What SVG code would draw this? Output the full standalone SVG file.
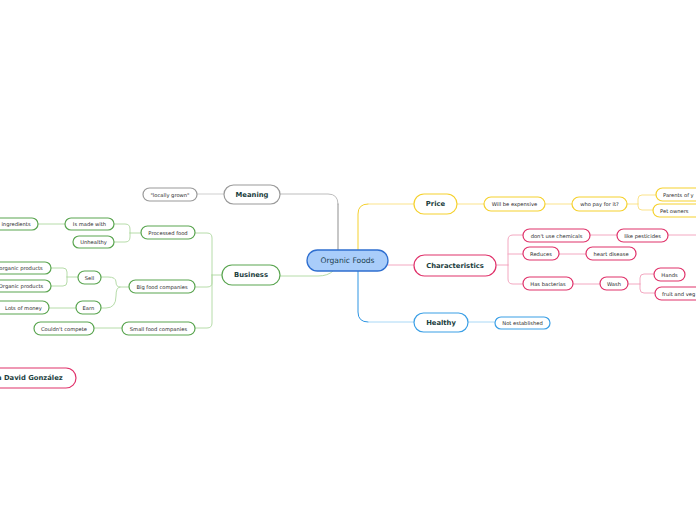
<svg xmlns="http://www.w3.org/2000/svg" width="696" height="520" viewBox="0 0 696 520">
<style>
.t{font-family:"DejaVu Sans",Verdana,sans-serif;font-size:5.2px;fill:#2a2a2a;text-anchor:middle;dominant-baseline:central}
.m{font-family:"DejaVu Sans",Verdana,sans-serif;font-size:6.8px;font-weight:bold;fill:#1b4040;text-anchor:middle;dominant-baseline:central}
.c{font-family:"DejaVu Sans",Verdana,sans-serif;font-size:7.6px;fill:#1b3f4f;text-anchor:middle;dominant-baseline:central}
.s{stroke-width:1.2}
.gy{fill:#fff;stroke:#9a9a9a;stroke-width:1.2}
.gn{fill:#fff;stroke:#5aa550;stroke-width:1.2}
.yl{fill:#fff;stroke:#f5d12e;stroke-width:1.2}
.pk{fill:#fff;stroke:#e0336b;stroke-width:1.2}
.bl{fill:#fff;stroke:#3a9fe6;stroke-width:1.2}
.l{fill:none;stroke-width:1;stroke-linecap:round}
.lgn{stroke:#b6dca9}
.lyl{stroke:#fbe38b}
.lpk{stroke:#f3a8c1}
.lbl{stroke:#a9d8f6}
.lgy{stroke:#cfcfcf}
</style>
<rect width="696" height="520" fill="#fff"/>
<g id="connectors">
  <path d="M280,194 H328 Q338,194 338,204" class="l" stroke="#bdbdbd" stroke-width="1.5"/>
  <path d="M338,204 V250" class="l" stroke="#8f8f8f" stroke-width="2.6"/>
  <path d="M280,276 H318 Q328,276 333,271" class="l lgn" stroke-width="1.3"/>
  <path d="M358,250 V214 Q358,204 368,204" class="l" stroke="#f5d12e" stroke-width="2.2"/>
  <path d="M368,204 H414" class="l" stroke="#fbe38b" stroke-width="1.3"/>
  <path d="M388,265 H414" class="l lpk" stroke-width="1.5"/>
  <path d="M358,271 V312 Q358,322 368,322" class="l" stroke="#2e95e3" stroke-width="2.2"/>
  <path d="M368,322 H414" class="l" stroke="#a9d8f6" stroke-width="1.3"/>
  <path d="M457,204 H484 M545,204 H572 M627,204 H638 M638,204 V199 Q638,195 642,195 H656 M638,204 V206 Q638,210 642,210 H653" class="l lyl"/>
  <path d="M496,265 H508 M508,265 V240 Q508,235 513,235 H523 M508,254 H523 M508,265 V279 Q508,284 513,284 H523 M590,235 H617 M668,235 H696 M559,254 H586 M573,284 H600 M628,284 H640 M640,284 V278 Q640,274 644,274 H654 M640,284 V289 Q640,293 644,293 H655" class="l lpk"/>
  <path d="M468,322 H495" class="l lbl"/>
  <path d="M224,194 H197" class="l lgy"/>
  <path d="M222,275 H212 M212,275 V238 Q212,233 207,233 H195 M212,275 V283 Q212,287 207,287 H195 M212,275 V323 Q212,328 207,328 H195" class="l lgn"/>
  <path d="M141,233 H130 M130,233 V229 Q130,224 125,224 H114 M130,233 V237 Q130,242 125,242 H114 M65,224 H38" class="l lgn"/>
  <path d="M129,287 H120 Q116,287 116,282 Q116,277 108,277 H101 M120,287 Q116,287 116,296 Q116,308 106,308 H101" class="l lgn"/>
  <path d="M78,277 H67 M67,277 V272 Q67,268 63,268 H51 M67,277 V282 Q67,286 63,286 H51 M76,308 H49 M122,328 H94" class="l lgn"/>
</g>
<g id="root"><rect x="307" y="250" width="81" height="21" rx="10.5" fill="#a9cdfa" stroke="#2f6fd0" stroke-width="1.3"/><text class="c" x="347.5" y="260.5">Organic Foods</text></g>
<g id="meaning"><rect class="gy" x="224" y="185" width="56" height="19" rx="9.5"/><text class="m" x="252" y="194.5">Meaning</text></g>
<g id="business"><rect class="gn" x="222" y="265" width="58" height="20" rx="10"/><text class="m" x="251" y="275">Business</text></g>
<g id="price"><rect class="yl" x="414" y="194" width="43" height="20" rx="10"/><text class="m" x="435.5" y="204">Price</text></g>
<g id="characteristics"><rect class="pk" x="414" y="255" width="82" height="21" rx="10.5"/><text class="m" x="455" y="265.5">Characteristics</text></g>
<g id="healthy"><rect class="bl" x="414" y="313" width="54" height="19" rx="9.5"/><text class="m" x="441" y="322.5">Healthy</text></g>
<g id="will-be-expensive"><rect class="yl" x="484" y="197" width="61" height="14" rx="7"/><text class="t" x="514.5" y="204">Will be expensive</text></g>
<g id="who-pay"><rect class="yl" x="572" y="197" width="55" height="14" rx="7"/><text class="t" x="599.5" y="204">who pay for it?</text></g>
<g id="parents"><rect class="yl" x="656" y="188" width="50" height="13" rx="6.5"/><text class="t" x="663" y="194.5" style="text-anchor:start">Parents of y</text></g>
<g id="pet-owners"><rect class="yl" x="653" y="204" width="50" height="13" rx="6.5"/><text class="t" x="660" y="210.5" style="text-anchor:start">Pet owners</text></g>
<g id="dont-use"><rect class="pk" x="523" y="229" width="67" height="13" rx="6.5"/><text class="t" x="556.5" y="235.5">don't use chemicals</text></g>
<g id="like-pesticides"><rect class="pk" x="617" y="229" width="51" height="13" rx="6.5"/><text class="t" x="642.5" y="235.5">like pesticides</text></g>
<g id="reduces"><rect class="pk" x="523" y="247" width="36" height="13" rx="6.5"/><text class="t" x="541" y="253.5">Reduces</text></g>
<g id="heart-disease"><rect class="pk" x="586" y="247" width="50" height="13" rx="6.5"/><text class="t" x="611" y="253.5">heart disease</text></g>
<g id="has-bacterias"><rect class="pk" x="523" y="277" width="50" height="13" rx="6.5"/><text class="t" x="548" y="283.5">Has bacterias</text></g>
<g id="wash"><rect class="pk" x="600" y="277" width="28" height="13" rx="6.5"/><text class="t" x="614" y="283.5">Wash</text></g>
<g id="hands"><rect class="pk" x="654" y="268" width="31" height="13" rx="6.5"/><text class="t" x="669.5" y="274.5">Hands</text></g>
<g id="fruit"><rect class="pk" x="655" y="287" width="50" height="13" rx="6.5"/><text class="t" x="662" y="293.5" style="text-anchor:start">fruit and veg</text></g>
<g id="not-established"><rect class="bl" x="495" y="317" width="55" height="12" rx="6"/><text class="t" x="522.5" y="323">Not established</text></g>
<g id="locally-grown"><rect class="gy" x="143" y="188" width="54" height="13" rx="6.5"/><text class="t" x="170" y="194.5">"locally grown"</text></g>
<g id="processed-food"><rect class="gn" x="141" y="226" width="54" height="13" rx="6.5"/><text class="t" x="168" y="232.5">Processed food</text></g>
<g id="is-made-with"><rect class="gn" x="65" y="218" width="49" height="12" rx="6"/><text class="t" x="89.5" y="224">Is made with</text></g>
<g id="unhealthy"><rect class="gn" x="73" y="236" width="41" height="12" rx="6"/><text class="t" x="93.5" y="242">Unhealthy</text></g>
<g id="ingredients"><rect class="gn" x="-6" y="218" width="44" height="12" rx="6"/><text class="t" x="16" y="224">ingredients</text></g>
<g id="big-food"><rect class="gn" x="129" y="280" width="66" height="13" rx="6.5"/><text class="t" x="162" y="286.5">Big food companies</text></g>
<g id="sell"><rect class="gn" x="78" y="271" width="23" height="13" rx="6.5"/><text class="t" x="89.5" y="277.5">Sell</text></g>
<g id="earn"><rect class="gn" x="76" y="301" width="25" height="13" rx="6.5"/><text class="t" x="88.5" y="307.5">Earn</text></g>
<g id="organic-products-1"><rect class="gn" x="-12" y="262" width="63" height="12" rx="6"/><text class="t" x="21" y="268">organic products</text></g>
<g id="organic-products-2"><rect class="gn" x="-12" y="280" width="63" height="12" rx="6"/><text class="t" x="21" y="286">Organic products</text></g>
<g id="lots-of-money"><rect class="gn" x="-10" y="301" width="59" height="13" rx="6.5"/><text class="t" x="23.5" y="307.5">Lots of money</text></g>
<g id="small-food"><rect class="gn" x="122" y="322" width="73" height="13" rx="6.5"/><text class="t" x="158.5" y="328.5">Small food companies</text></g>
<g id="couldnt-compete"><rect class="gn" x="34" y="322" width="60" height="13" rx="6.5"/><text class="t" x="64" y="328.5">Couldn't compete</text></g>
<g id="author"><rect x="-30" y="368" width="106" height="20" rx="10" fill="#fff" stroke="#e0336b" stroke-width="1.2"/><text class="m" x="-3" y="378" style="text-anchor:start">a David González</text></g>
</svg>
